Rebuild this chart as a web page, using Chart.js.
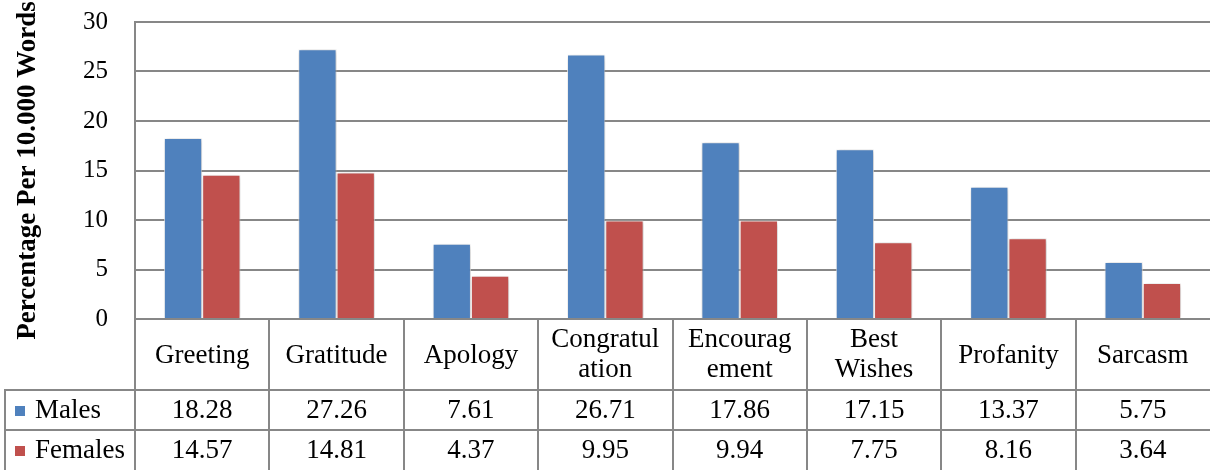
<!DOCTYPE html>
<html>
<head>
<meta charset="utf-8">
<script src="https://cdn.jsdelivr.net/npm/chart.js@4"></script>
<style>
  html, body { margin: 0; padding: 0; background: #ffffff; }
  #wrap { width: 1210px; height: 470px; }
</style>
</head>
<body>
<div id="wrap"><canvas id="chart" width="1210" height="470"></canvas></div>
<script>
// Speech-act categories, split the way they wrap in the table header
const categories = [
  ['Greeting'], ['Gratitude'], ['Apology'], ['Congratul', 'ation'],
  ['Encourag', 'ement'], ['Best', 'Wishes'], ['Profanity'], ['Sarcasm']
];
const males   = [18.28, 27.26, 7.61, 26.71, 17.86, 17.15, 13.37, 5.75];
const females = [14.57, 14.81, 4.37, 9.95, 9.94, 7.75, 8.16, 3.64];
const yTicks  = [0, 5, 10, 15, 20, 25, 30];

const BLUE = '#4F81BD';
const RED = '#C0504D';
const GRID = '#878787';
const SERIF = '"Liberation Serif", "Times New Roman", serif';
const TABLE_FONT = '27px ' + SERIF;

// Soft drop shadow behind the bars
const barShadow = {
  id: 'barShadow',
  beforeDatasetsDraw(chart) {
    const ctx = chart.ctx;
    ctx.save();
    ctx.shadowColor = 'rgba(0,0,0,0.28)';
    ctx.shadowBlur = 5;
    ctx.shadowOffsetX = 1;
    ctx.shadowOffsetY = 1;
  },
  afterDatasetsDraw(chart) {
    chart.ctx.restore();
  }
};

// Data table under the plot: category header row plus one row per series
const dataTable = {
  id: 'dataTable',
  afterDraw(chart) {
    const ctx = chart.ctx;
    const xs = chart.scales.x;
    const area = chart.chartArea;
    const W = chart.width, H = chart.height;
    const n = categories.length;
    const step = (area.right - area.left) / n;
    const headTop = area.bottom;
    const row1 = 390, row2 = 430;

    ctx.save();
    ctx.strokeStyle = GRID;
    ctx.lineWidth = 2;
    ctx.beginPath();
    // vertical rules
    ctx.moveTo(area.left, headTop); ctx.lineTo(area.left, H);
    for (let i = 0; i < n - 1; i++) {
      const x = Math.round(xs.getPixelForValue(i) + step / 2);
      ctx.moveTo(x, headTop); ctx.lineTo(x, H);
    }
    ctx.moveTo(5, row1); ctx.lineTo(5, H);
    // horizontal rules
    ctx.moveTo(4, row1); ctx.lineTo(W, row1);
    ctx.moveTo(4, row2); ctx.lineTo(W, row2);
    ctx.stroke();

    ctx.fillStyle = '#000000';
    ctx.font = TABLE_FONT;
    ctx.textAlign = 'center';
    ctx.textBaseline = 'alphabetic';
    categories.forEach((lines, i) => {
      const x = xs.getPixelForValue(i);
      if (lines.length === 1) {
        ctx.fillText(lines[0], x, 363);
      } else {
        ctx.fillText(lines[0], x, 347);
        ctx.fillText(lines[1], x, 377);
      }
      ctx.fillText(males[i].toFixed(2), x, 418);
      ctx.fillText(females[i].toFixed(2), x, 458);
    });

    // series keys
    ctx.textAlign = 'left';
    ctx.fillStyle = BLUE;
    ctx.fillRect(15, 406, 10, 10);
    ctx.fillStyle = RED;
    ctx.fillRect(15, 446, 10, 10);
    ctx.fillStyle = '#000000';
    ctx.fillText('Males', 35, 418);
    ctx.fillText('Females', 35, 458);
    ctx.restore();
  }
};

new Chart(document.getElementById('chart'), {
  type: 'bar',
  data: {
    labels: categories,
    datasets: [
      {
        label: 'Males', data: males, backgroundColor: BLUE,
        borderColor: 'rgba(255,255,255,0.75)', borderWidth: 1,
        categoryPercentage: 0.57, barPercentage: 1.0
      },
      {
        label: 'Females', data: females, backgroundColor: RED,
        borderColor: 'rgba(255,255,255,0.75)', borderWidth: 1,
        categoryPercentage: 0.57, barPercentage: 1.0
      }
    ]
  },
  options: {
    responsive: false,
    devicePixelRatio: 1,
    animation: false,
    layout: { padding: { top: 22, right: 0, bottom: 151, left: 0 } },
    plugins: { legend: { display: false }, tooltip: { enabled: false } },
    scales: {
      x: { display: false },
      y: {
        min: 0, max: 30,
        afterFit(scale) { scale.width = 135; },
        afterBuildTicks(scale) { scale.ticks = yTicks.map(v => ({ value: v })); },
        ticks: {
          padding: 3,
          color: '#000000',
          font: { family: SERIF, size: 25 }
        },
        grid: { color: GRID, lineWidth: 2, drawTicks: true, tickLength: 24, tickColor: 'rgba(0,0,0,0)' },
        border: { color: GRID, width: 2 },
        title: {
          display: true,
          text: 'Percentage Per 10.000 Words',
          color: '#000000',
          padding: { top: 12, bottom: 0 },
          font: { family: SERIF, size: 27, weight: 'bold' }
        }
      }
    }
  },
  plugins: [barShadow, dataTable]
});
</script>
</body>
</html>
